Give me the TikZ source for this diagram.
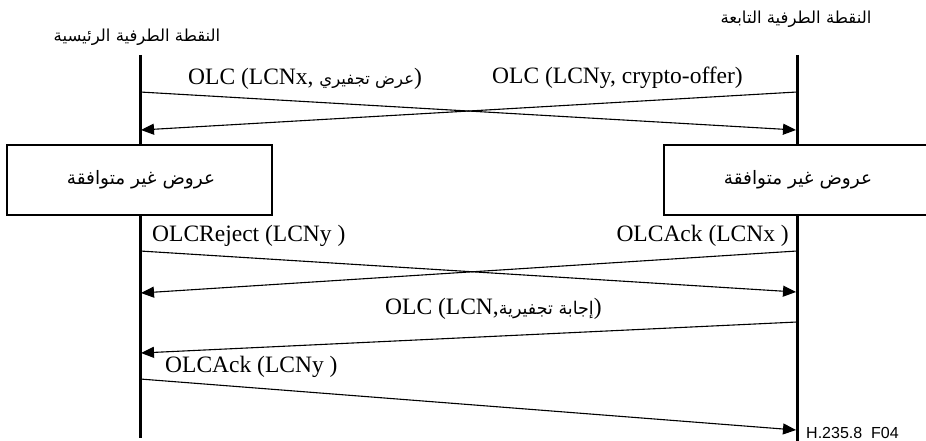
\documentclass[tikz,border=0pt]{standalone}
\usepackage{fontspec}
\setmainfont{Liberation Serif}
\newfontfamily\arabicfont[Script=Arabic]{DejaVu Sans}
\newfontfamily\figsans{Liberation Sans}
\TeXXeTstate=1
\usetikzlibrary{arrows.meta}

\newcommand\arsize{\arabicfont\fontsize{16.5}{19}\selectfont}

\begin{document}
\begin{tikzpicture}[x=1pt,y=-1pt,
  lifeline/.style={line width=3pt},
  msg/.style={line width=1.1pt, -{Triangle[length=13pt,width=11pt]}},
  msgtext/.style={font=\fontsize{23.5}{26}\selectfont, inner sep=0pt},
  artext/.style={font=\arsize, inner sep=0pt},
  boxtext/.style={font=\arabicfont\fontsize{18.5}{21}\selectfont, inner sep=0pt},
  offerbox/.style={draw, line width=2pt, fill=white}]
\useasboundingbox (0,0) rectangle (926,441);
\clip (0,0) rectangle (926,441);

% endpoint titles
\node[artext] (mainT) at (137,37) {\beginR النقطة الطرفية الرئيسية\endR};
\node[artext] (slaveT) at (796,19) {\beginR النقطة الطرفية التابعة\endR};

% lifelines
\coordinate (mTop) at (140,55);
\coordinate (mBot) at (140,438);
\coordinate (sTop) at (797,55);
\coordinate (sBot) at (797,441);
\draw[lifeline] (mTop) -- (mBot);
\draw[lifeline] (sTop) -- (sBot);

% message end points on the lifelines
\coordinate (m1) at (140,92);   \coordinate (s1) at (797,92);
\coordinate (m2) at (141,130);  \coordinate (s2) at (796,130);
\coordinate (m3) at (140,251);  \coordinate (s3) at (797,251);
\coordinate (m4) at (141,293);  \coordinate (s4) at (796,292);
\coordinate (s5) at (797,322);  \coordinate (m5) at (141,353);
\coordinate (m6) at (140,379);  \coordinate (s6) at (796,430);

% crossed offers
\draw[msg] (m1) -- (s2);
\draw[msg] (s1) -- (m2);
\node[msgtext, anchor=west] (lab1) at (188,79)
  {OLC (LCNx, {\arsize\beginR عرض تجفيري\endR})};
\node[msgtext, anchor=east] (lab2) at (743,78) {OLC (LCNy, crypto-offer)};

% incompatible offers, one box on each lifeline
\node[offerbox, minimum width=265pt, minimum height=70pt] (boxM) at (139.5,180) {};
\node[offerbox, minimum width=266pt, minimum height=70pt] (boxS) at (797,180) {};
\node[boxtext] (boxMt) at (141,180) {\beginR عروض غير متوافقة\endR};
\node[boxtext] (boxSt) at (798,180) {\beginR عروض غير متوافقة\endR};

% reject / ack crossing
\draw[msg] (m3) -- (s4);
\draw[msg] (s3) -- (m4);
\node[msgtext, anchor=west] (lab3) at (152,236) {OLCReject (LCNy )};
\node[msgtext, anchor=east] (lab4) at (789,236) {OLCAck (LCNx )};

% crypto answer
\draw[msg] (s5) -- (m5);
\node[msgtext, anchor=west] (lab5) at (385,309)
  {OLC (LCN,{\arabicfont\fontsize{17.5}{20}\selectfont\beginR إجابة تجفيرية\endR})};

% final ack
\draw[msg] (m6) -- (s6);
\node[msgtext, anchor=west] (lab6) at (165,367) {OLCAck (LCNy )};

\node[font=\figsans\fontsize{16}{18}\selectfont, anchor=west, inner sep=0pt] (fig) at (806,433) {H.235.8\ \ F04};
\end{tikzpicture}
\end{document}
